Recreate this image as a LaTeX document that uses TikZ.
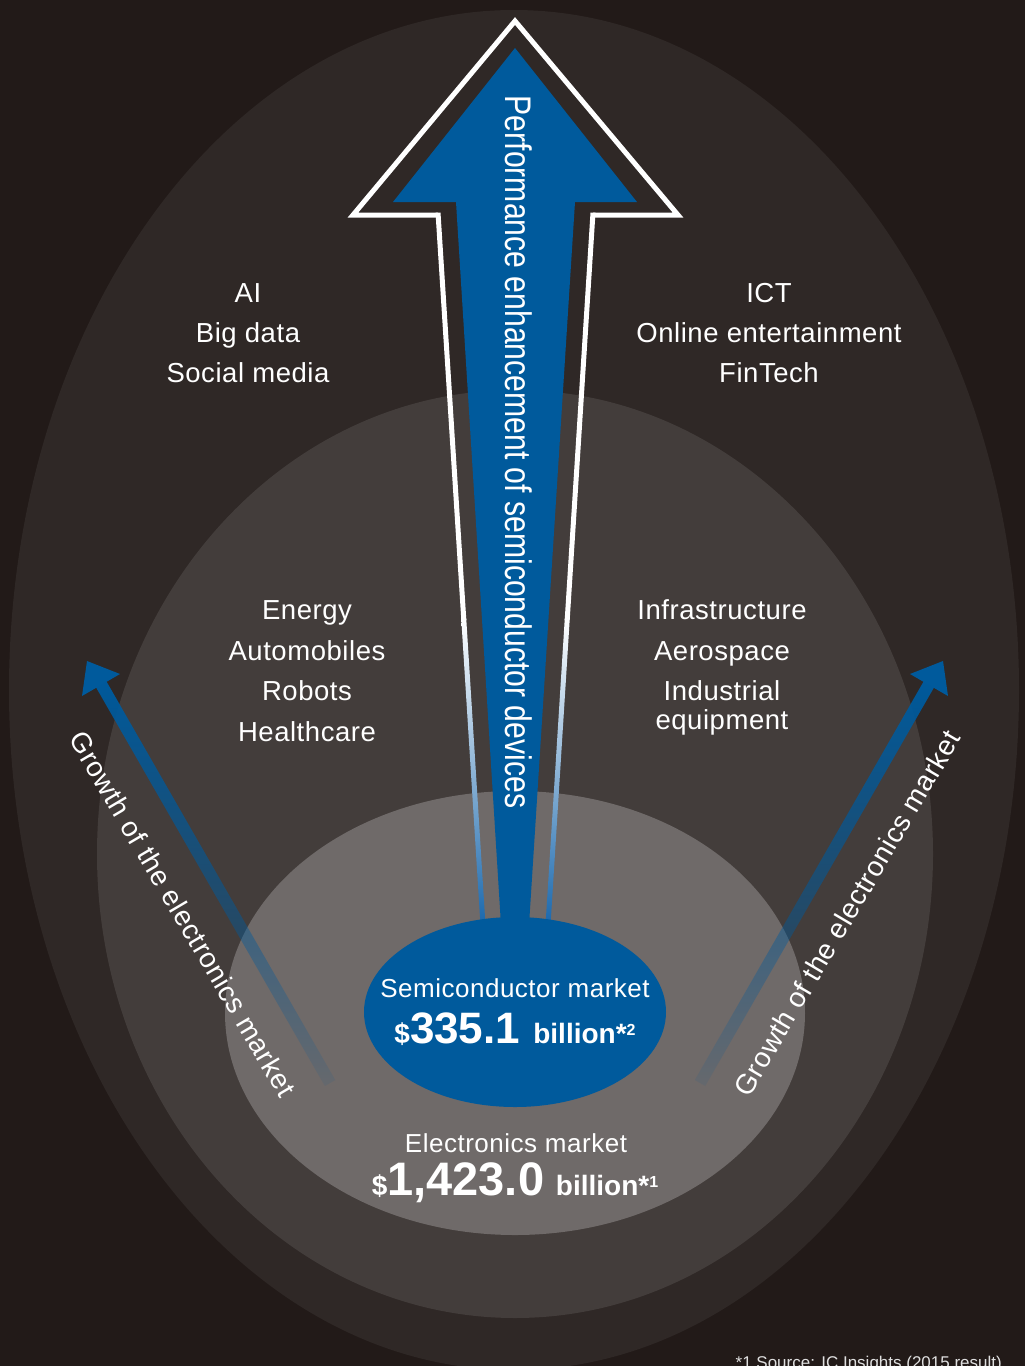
\documentclass[tikz,border=0pt]{standalone}
\usepackage{fontspec}
\setmainfont{Liberation Sans}
\newfontfamily\narrowfont[FakeStretch=0.815]{Liberation Sans}
\newfontfamily\spacedfont[LetterSpace=2]{Liberation Sans}
\usetikzlibrary{fadings}

\definecolor{bgdark}{HTML}{221A18}
\definecolor{ringout}{HTML}{2F2826}
\definecolor{ringmid}{HTML}{433D3B}
\definecolor{ringin}{HTML}{6F6A69}
\definecolor{semiblue}{HTML}{005A9C}
\definecolor{lineblue}{HTML}{1A68AD}
\definecolor{linepale}{HTML}{B4C4E2}

\newcommand\fsz[1]{\fontsize{#1}{#1}\selectfont}

% shafts of the growth arrows fade out towards their tails
\tikzfading[name=growfade, top color=transparent!0, middle color=transparent!0, bottom color=transparent!92]

\tikzset{
  lbl/.style={text=white, font=\spacedfont\fsz{27.5}, anchor=base, inner sep=0pt},
  growlbl/.style={text=white, font=\spacedfont\fsz{28}, inner sep=0pt},
  growhead/.style={fill=semiblue},
  growshaft/.style={fill=semiblue, path fading=growfade},
  outline/.style={draw=white, line width=5pt, line join=miter},
}

\begin{document}
\begin{tikzpicture}[x=1pt, y=-1pt]
\useasboundingbox (0,0) rectangle (1025,1366);
\fill[bgdark] (0,0) rectangle (1025,1366);

% nested market rings
\fill[ringout] (514,690) ellipse [x radius=505pt, y radius=680pt];
\fill[ringmid] (515,854) ellipse [x radius=418pt, y radius=464pt];
\fill[ringin] (515,1013) ellipse [x radius=290pt, y radius=222pt];

% growth arrows, left and right
\coordinate (ltip) at (87,661);
\coordinate (lb1) at (120,674);
\coordinate (lb2) at (82,696);
\fill[growhead] (ltip) -- (lb1) -- (lb2) -- cycle;
\fill[growshaft] (106.2,681) -- (95.8,687) -- (324.8,1086) -- (335.2,1080) -- cycle;

\coordinate (rtip) at (943,661);
\coordinate (rb1) at (910,674);
\coordinate (rb2) at (948,696);
\fill[growhead] (rtip) -- (rb1) -- (rb2) -- cycle;
\fill[growshaft] (923.8,681) -- (934.2,687) -- (705.2,1086) -- (694.8,1080) -- cycle;

% performance arrow: blue body
\fill[semiblue] (515,48) -- (637,202) -- (575,202) -- (529,925) -- (501,925)
  -- (456,202) -- (393,202) -- cycle;
% white outline of the head
\draw[outline] (438,215) -- (353,215) -- (515,21) -- (678,215) -- (593,215);
% outline shaft, white above, turning blue towards the base
\fill[white] (435.5,212.5) -- (440.5,212.5) -- (466.3,620) -- (461.3,620) -- cycle;
\fill[white] (590.5,212.5) -- (595.5,212.5) -- (569.7,620) -- (564.7,620) -- cycle;
\shade[top color=white, middle color=linepale, bottom color=lineblue]
  (461.2,618) -- (466.2,618) -- (485.5,925) -- (480.5,925) -- cycle;
\shade[top color=white, middle color=linepale, bottom color=lineblue]
  (564.8,618) -- (569.8,618) -- (550.5,925) -- (545.5,925) -- cycle;

% semiconductor market
\fill[semiblue] (515,1012) ellipse [x radius=151pt, y radius=95pt];

\node[rotate=-90, anchor=base, text=white, font=\narrowfont\fsz{37}, inner sep=0pt]
  (perf) at (505,452) {Performance enhancement of semiconductor devices};

% application fields
\node[lbl] (ai) at (248,302) {AI};
\node[lbl] (bigdata) at (248,342) {Big data};
\node[lbl] (social) at (248,382) {Social media};
\node[lbl] (ict) at (769,302) {ICT};
\node[lbl] (online) at (769,342) {Online entertainment};
\node[lbl] (fintech) at (769,382) {FinTech};

\node[lbl] (energy) at (307,619) {Energy};
\node[lbl] (auto) at (307,660) {Automobiles};
\node[lbl] (robots) at (307,700) {Robots};
\node[lbl] (health) at (307,741) {Healthcare};
\node[lbl] (infra) at (722,619) {Infrastructure};
\node[lbl] (aero) at (722,660) {Aerospace};
\node[lbl] (indus) at (722,700) {Industrial};
\node[lbl] (equip) at (722,729) {equipment};

% growth labels
\node[growlbl, rotate=-59.5] (growl) at (183,914) {Growth of the electronics market};
\node[growlbl, rotate=59.5] (growr) at (847,913) {Growth of the electronics market};

% market sizes
\node[lbl, font=\spacedfont\fsz{26}] (semilbl) at (515,997) {Semiconductor market};
\node[lbl, font=\bfseries\fsz{28}] (semival) at (515,1043)
  {\$\fsz{44}335.1\hspace{0.3em}\fsz{28}billion*\raisebox{8pt}{\fsz{16}2}};
\node[lbl, font=\spacedfont\fsz{26}] (eleclbl) at (516,1152) {Electronics market};
\node[lbl, font=\bfseries\fsz{28}] (elecval) at (515,1195)
  {\$\fsz{47}1,423.0\hspace{0.25em}\fsz{28}billion*\raisebox{8pt}{\fsz{16}1}};

\node[anchor=base east, inner sep=0pt, font=\fsz{17}, text=white!88!black] (note)
  at (1002,1368) {*1 Source: IC Insights (2015 result)};
\end{tikzpicture}
\end{document}
